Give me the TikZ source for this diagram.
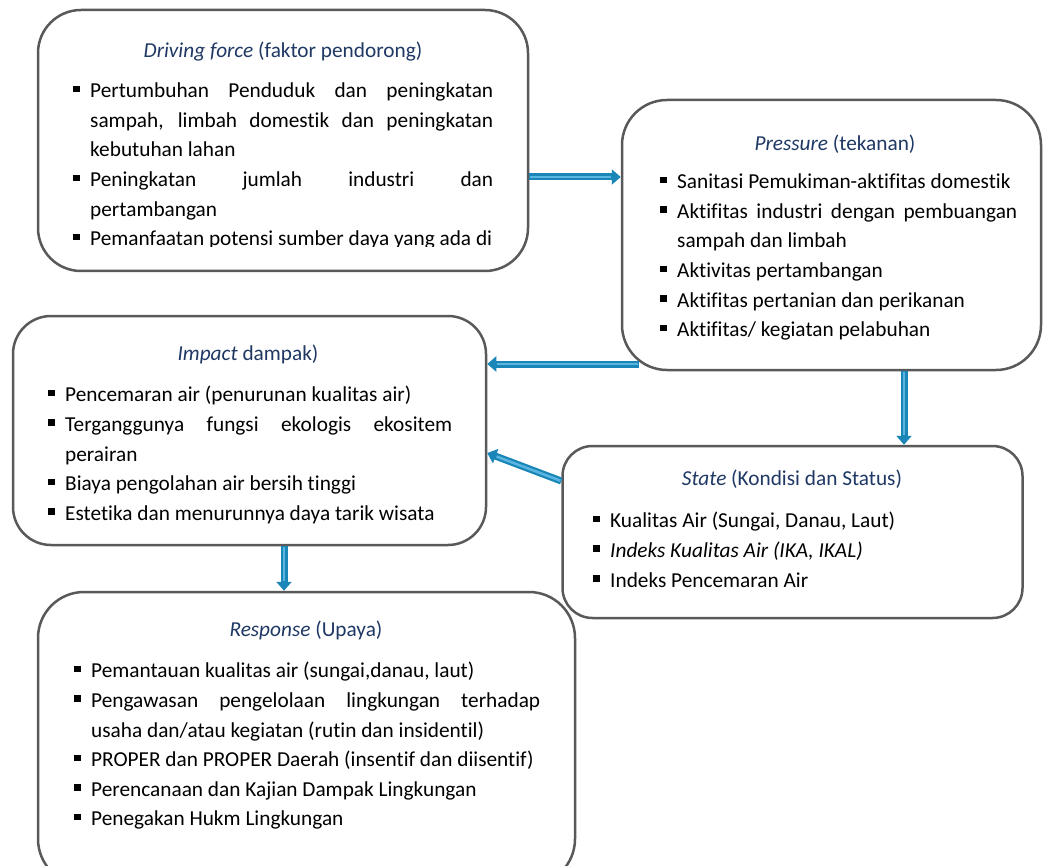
\documentclass[tikz,border=0pt]{standalone}
\usepackage{fontspec}
\setmainfont{Carlito}[Ligatures=NoCommon]
\usetikzlibrary{arrows.meta}
\definecolor{boxline}{HTML}{595959}
\definecolor{titleblue}{HTML}{1F3864}
\definecolor{arrdark}{HTML}{1A86B8}
\definecolor{arrlight}{HTML}{5AB6E0}
\hyphenpenalty=10000
\exhyphenpenalty=10000
\tolerance=9999
\newcommand{\bitem}[1]{\par\noindent\hangindent=17pt\hangafter=1\makebox[17pt][l]{\rule{0pt}{17pt}\raisebox{5.5pt}{\rule{6.5pt}{6.5pt}}}#1}
\tikzset{
  box/.style={draw=boxline, line width=2.5pt, fill=white, rectangle, inner sep=0pt},
  items/.style={anchor=north west, inner sep=0pt, align=justify, text=black,
    font=\fontsize{21.3}{29.6}\selectfont},
  heading/.style={anchor=base, inner sep=0pt, text=titleblue, font=\fontsize{21.3}{29.6}\selectfont},
  flow/.style={draw=arrdark, line width=7pt, -{Triangle[width=15pt,length=9pt]},
    postaction={draw=arrlight, line width=2.5pt, -, shorten >=10pt, shorten <=1pt}}
}
\begin{document}
\begin{tikzpicture}[x=1pt, y=-1pt]
\useasboundingbox (0,0) rectangle (1043,866);
% boxes
\node[box, minimum width=490pt, minimum height=261pt, rounded corners=43pt] (drv) at (283,140.5) {};
\node[box, minimum width=419pt, minimum height=270pt, rounded corners=45pt] (prs) at (831.5,235) {};
\node[box, minimum width=473pt, minimum height=229pt, rounded corners=38pt] (imp) at (249.5,430.5) {};
\node[box, minimum width=460pt, minimum height=172pt, rounded corners=30pt] (st) at (792.5,532) {};
\node[box, minimum width=537pt, minimum height=293pt, rounded corners=46pt] (rsp) at (306.5,738.5) {};

% Driving force
\node[heading] (drvh) at (283,58) {\textit{Driving force} (faktor pendorong)};
\begin{scope}
\clip (40,12) rectangle (526,246.5);
\node[items, text width=420pt] (drvt) at (73,68) {%
\bitem{Pertumbuhan Penduduk dan peningkatan\linebreak sampah, limbah domestik dan peningkatan\linebreak kebutuhan lahan}
\bitem{Peningkatan jumlah industri dan\linebreak pertambangan}
\bitem{\mbox{Pemanfaatan potensi sumber daya yang ada di}}};
\end{scope}

% Pressure
\node[heading] (prsh) at (835,151) {\textit{Pressure} (tekanan)};
\node[items, text width=357pt] (prst) at (660,159) {%
\bitem{\mbox{Sanitasi Pemukiman-aktifitas domestik}}
\bitem{Aktifitas industri dengan pembuangan\linebreak sampah dan limbah}
\bitem{\mbox{Aktivitas pertambangan}}
\bitem{\mbox{Aktifitas pertanian dan perikanan}}
\bitem{\mbox{Aktifitas/ kegiatan pelabuhan}}};

% Impact
\node[heading] (imph) at (248,360) {\textit{Impact} dampak)};
\node[items, text width=404pt] (impt) at (48,372) {%
\bitem{\mbox{Pencemaran air (penurunan kualitas air)}}
\bitem{Terganggunya fungsi ekologis ekositem\linebreak perairan}
\bitem{\mbox{Biaya pengolahan air bersih tinggi}}
\bitem{\mbox{Estetika dan menurunnya daya tarik wisata}}};

% State
\node[heading] (sth) at (792,485) {\textit{State} (Kondisi dan Status)};
\node[items, text width=400pt] (stt) at (593,498) {%
\bitem{\mbox{Kualitas Air (Sungai, Danau, Laut)}}
\bitem{\mbox{\textit{Indeks Kualitas Air (IKA, IKAL)}}}
\bitem{\mbox{Indeks Pencemaran Air}}};

% Response
\node[heading] (rsph) at (306,636) {\textit{Response} (Upaya)};
\node[items, text width=466pt] (rspt) at (74,648) {%
\bitem{\mbox{Pemantauan kualitas air (sungai,danau, laut)}}
\bitem{Pengawasan pengelolaan lingkungan terhadap\linebreak usaha dan/atau kegiatan (rutin dan insidentil)}
\bitem{\mbox{PROPER dan PROPER Daerah (insentif dan diisentif)}}
\bitem{\mbox{Perencanaan dan Kajian Dampak Lingkungan}}
\bitem{\mbox{Penegakan Hukm Lingkungan}}};

% connectors
\draw[flow] (drv.east |- 0,177) -- (prs.west |- 0,177);
\draw[flow] ([xshift=18pt]prs.south west |- 0,364) -- (imp.east |- 0,364);
\draw[flow] (prs.south -| 904,0) -- (st.north -| 904,0);
\draw[flow] (st.west |- 0,481) -- (imp.east |- 0,453);
\draw[flow] (imp.south -| 284,0) -- (rsp.north -| 284,0);
\end{tikzpicture}
\end{document}
